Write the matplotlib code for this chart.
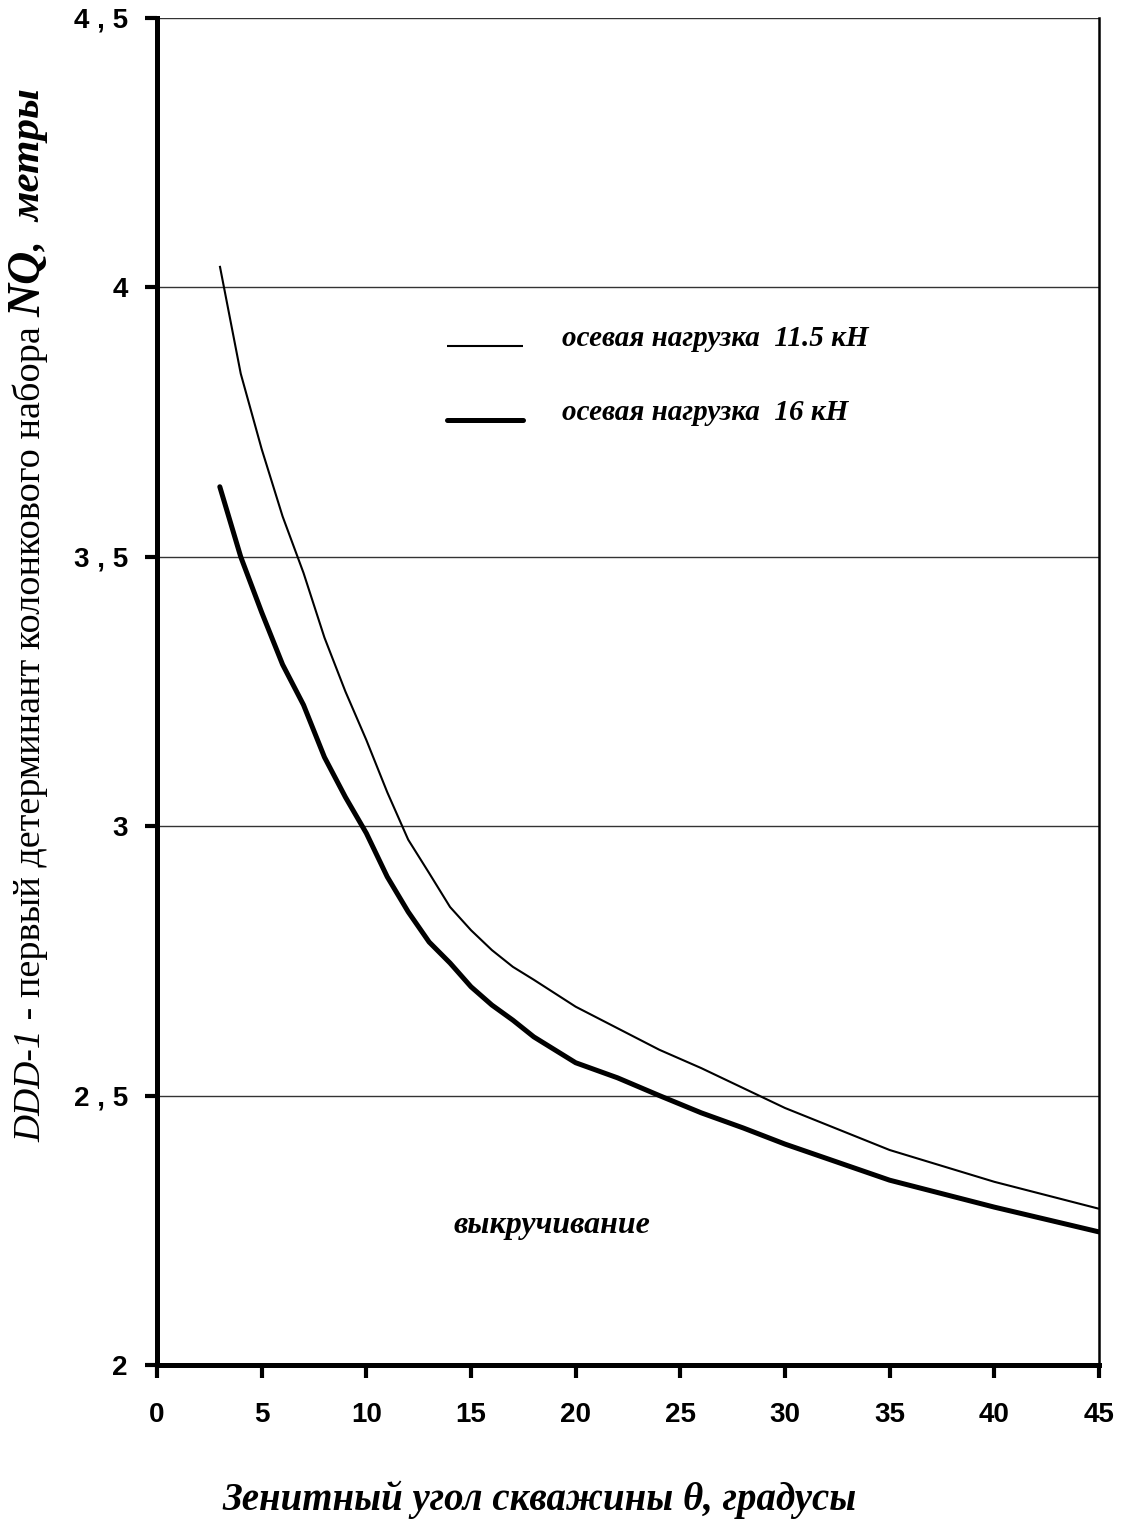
import matplotlib
matplotlib.use("Agg")
import matplotlib.pyplot as plt
from matplotlib.ticker import FixedLocator, FuncFormatter

# Zenith angle of the borehole, degrees
angle = [3, 4, 5, 6, 7, 8, 9, 10, 11, 12, 13, 14, 15, 16, 17, 18,
         20, 22, 24, 26, 28, 30, 35, 40, 45]

# First determinant of the core assembly, metres
load_11_5 = [4.04, 3.84, 3.70, 3.575, 3.47, 3.35, 3.25, 3.16, 3.063, 2.975,
             2.913, 2.85, 2.807, 2.77, 2.739, 2.715, 2.665, 2.625, 2.585,
             2.551, 2.514, 2.477, 2.399, 2.34, 2.29]
load_16 = [3.63, 3.50, 3.397, 3.30, 3.225, 3.128, 3.054, 2.987, 2.906, 2.841,
           2.785, 2.746, 2.702, 2.668, 2.64, 2.609, 2.561, 2.533, 2.50,
           2.468, 2.44, 2.41, 2.343, 2.293, 2.247]

x_ticks = [0, 5, 10, 15, 20, 25, 30, 35, 40, 45]
y_ticks = [2, 2.5, 3, 3.5, 4, 4.5]

legend_labels = ["осевая нагрузка  11.5 кН", "осевая нагрузка  16 кН"]
region_label = "выкручивание"

W, H, DPI = 1124, 1534, 100
fig = plt.figure(figsize=(W / DPI, H / DPI), dpi=DPI)
ax = fig.add_axes([157 / W, 1 - 1365 / H, (1099 - 157) / W, (1365 - 18) / H])

serif = "Liberation Serif"
sans = "Liberation Sans"

ax.set_xlim(0, 45)
ax.set_ylim(2, 4.5)

# horizontal grid
for yv in y_ticks[1:]:
    ax.axhline(yv, color="#333333", lw=1.0, zorder=1)

ax.plot(angle, load_11_5, color="black", lw=1.5, zorder=3,
        solid_capstyle="butt", solid_joinstyle="round")
ax.plot(angle, load_16, color="black", lw=3.6, zorder=3,
        solid_capstyle="round", solid_joinstyle="round")

# spines
ax.spines["top"].set_visible(False)
ax.spines["left"].set_linewidth(3.6)
ax.spines["bottom"].set_linewidth(3.6)
ax.spines["right"].set_linewidth(1.8)

ax.xaxis.set_major_locator(FixedLocator(x_ticks))
ax.yaxis.set_major_locator(FixedLocator(y_ticks))
ax.yaxis.set_major_formatter(FuncFormatter(
    lambda v, p: (f"{v:g}").replace(".", " , ")))
ax.tick_params(axis="both", direction="out", length=9, width=3.0,
               colors="black")
ax.tick_params(axis="y", pad=12)
ax.tick_params(axis="x", pad=18)
for lab in ax.get_xticklabels() + ax.get_yticklabels():
    lab.set_fontfamily(sans)
    lab.set_fontweight("bold")
    lab.set_fontsize(20)

# legend drawn inside the plot area
leg_x0, leg_x1 = 13.85, 17.5
ax.plot([leg_x0, leg_x1], [3.891, 3.891], color="black", lw=1.5,
        solid_capstyle="butt")
ax.plot([leg_x0, leg_x1], [3.754, 3.754], color="black", lw=3.6,
        solid_capstyle="round")
ax.text(19.35, 3.905, legend_labels[0], family=serif, style="italic",
        weight="bold", fontsize=21, va="center", ha="left")
ax.text(19.35, 3.767, legend_labels[1], family=serif, style="italic",
        weight="bold", fontsize=21, va="center", ha="left")

ax.text(14.15, 2.258, region_label, family=serif, style="italic",
        weight="bold", fontsize=23, va="center", ha="left")

# x axis title
fig.text(540 / W, 1 - 1500 / H, "Зенитный угол скважины θ, градусы",
         family=serif, style="italic", weight="bold", fontsize=28,
         ha="center", va="center")

# y axis title assembled from differently styled pieces, bottom to top
fig.canvas.draw()
renderer = fig.canvas.get_renderer()
pieces = [
    ("DDD-1", dict(style="italic", weight="normal", fontsize=27)),
    (" - первый детерминант колонкового набора ",
     dict(style="normal", weight="normal", fontsize=27.5)),
    ("NQ", dict(style="italic", weight="bold", fontsize=33)),
    (",  ", dict(style="italic", weight="bold", fontsize=27)),
    ("метры", dict(style="italic", weight="bold", fontsize=31)),
]
x_base = 40
y_cur = 1142
for txt, kw in pieces:
    t = fig.text(x_base / W, 1 - y_cur / H, txt, family=serif, rotation=90,
                 rotation_mode="anchor", ha="left", va="baseline", **kw)
    bb = t.get_window_extent(renderer)
    y_cur -= bb.height

fig.savefig("out.png", dpi=DPI)
